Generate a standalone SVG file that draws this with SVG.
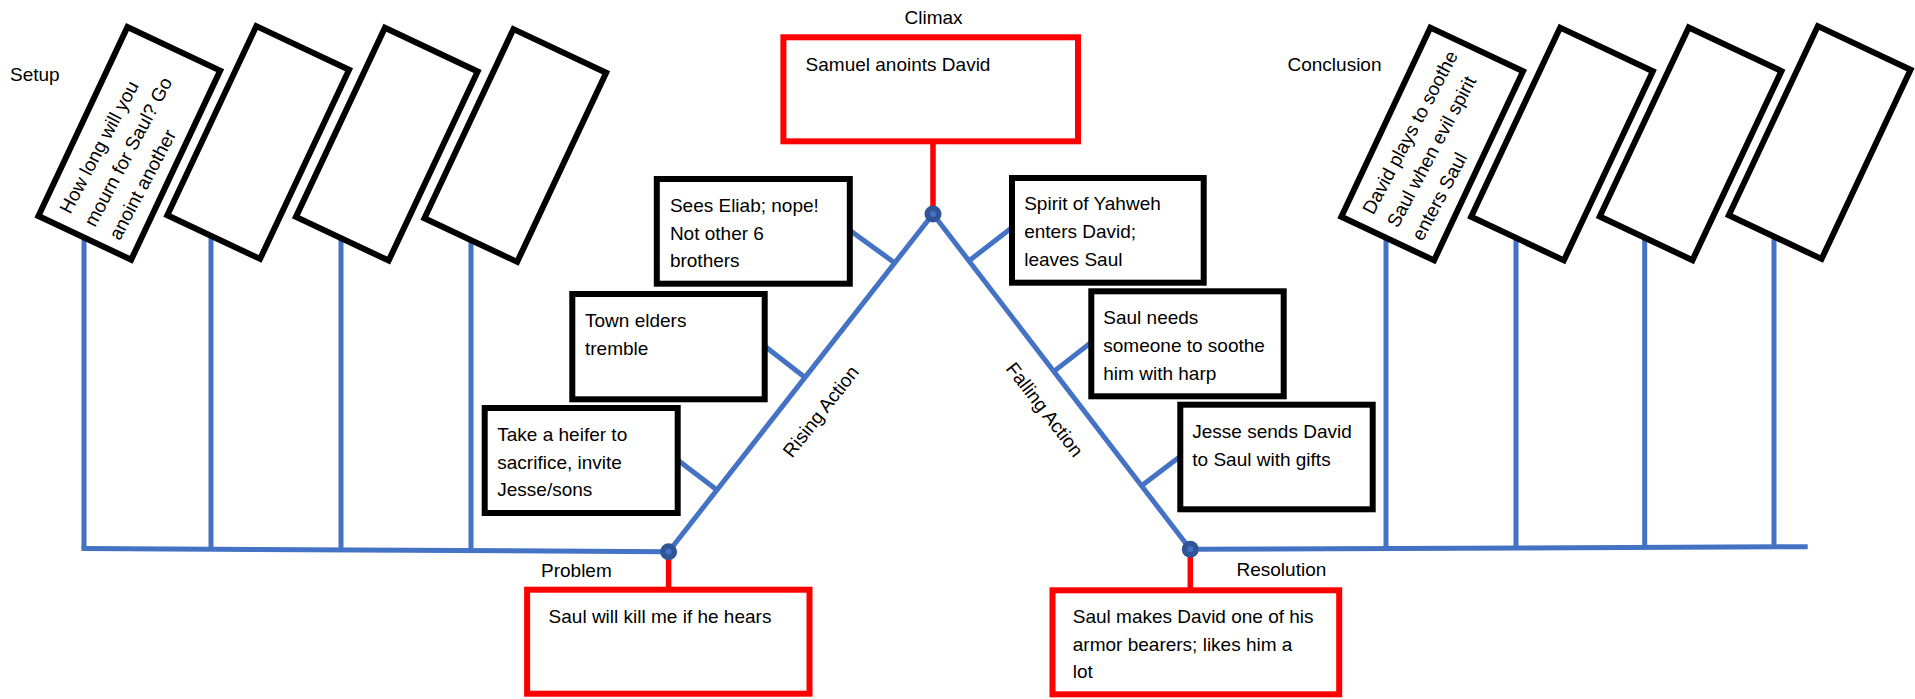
<svg xmlns="http://www.w3.org/2000/svg" width="1915" height="699" viewBox="0 0 1915 699">
<style>
text{font-family:"Liberation Sans",Arial,sans-serif;font-size:19px;fill:#000}
.bl{stroke:#4472C4;stroke-width:5;fill:none}
.rd{stroke:#FF0000;stroke-width:5.5;fill:none}
.bx{fill:#fff;stroke:#000;stroke-width:6}
.rb{fill:#fff;stroke:#FF0000;stroke-width:6}
.dot{fill:#2F5597}
.dotc{fill:#4472C4}
</style>
<rect width="1915" height="699" fill="#fff"/>
<g id="connectors">
  <path class="bl" d="M81.5 548.5 L668.6 551.7"/>
  <path class="bl" d="M84 200 V548.5 M211 200 V549.2 M341 200 V549.9 M471 200 V550.6"/>
  <path class="bl" d="M668.6 551.7 L933 214 L1190.3 549.3"/>
  <path class="bl" d="M1190.3 549.3 L1807.7 546.7"/>
  <path class="bl" d="M1386 200 V548.5 M1516 200 V547.9 M1644.7 200 V547.4 M1774 200 V546.8"/>
  <path class="bl" d="M848 229 L895.5 263.4 M762 344 L805.4 377.8 M675 458 L717 490.1"/>
  <path class="bl" d="M1014 226 L969 260.8 M1093 341 L1053.9 371.4 M1182 455 L1141.6 485.7"/>
  <path class="rd" d="M933 144 V214 M668.6 551.7 V590 M1190.3 549.3 V590"/>
  <circle class="dot" cx="933" cy="214" r="8.5"/><circle class="dotc" cx="933" cy="214" r="3"/>
  <circle class="dot" cx="668.6" cy="551.7" r="8.5"/><circle class="dotc" cx="668.6" cy="551.7" r="3"/>
  <circle class="dot" cx="1190.3" cy="549.3" r="8.5"/><circle class="dotc" cx="1190.3" cy="549.3" r="3"/>
</g>
<g id="label-setup"><text x="10" y="81">Setup</text></g>
<g id="label-climax"><text x="933.5" y="24" text-anchor="middle">Climax</text></g>
<g id="label-conclusion"><text x="1287.5" y="70.5">Conclusion</text></g>
<g id="label-problem"><text x="541" y="576.5">Problem</text></g>
<g id="label-resolution"><text x="1236.5" y="575.5">Resolution</text></g>
<g id="label-rising"><text transform="translate(826,415.5) rotate(-51.9)" text-anchor="middle">Rising Action</text></g>
<g id="label-falling"><text transform="translate(1039.5,413.5) rotate(52.45)" text-anchor="middle">Falling Action</text></g>

<g id="setup-1" transform="translate(129.3,143.3) rotate(-64.8)">
  <rect class="bx" x="-104.5" y="-51.25" width="209" height="102.5"/>
  <text transform="rotate(2.8)" x="-91" y="-18.5"><tspan x="-91">How long will you</tspan><tspan x="-91" dy="28">mourn for Saul? Go</tspan><tspan x="-91" dy="28">anoint another</tspan></text>
</g>
<g id="setup-2" transform="translate(258.2,142.5) rotate(-64.8)"><rect class="bx" x="-104.5" y="-51.25" width="209" height="102.5"/></g>
<g id="setup-3" transform="translate(386.8,144.2) rotate(-64.8)"><rect class="bx" x="-104.5" y="-51.25" width="209" height="102.5"/></g>
<g id="setup-4" transform="translate(515.3,145.5) rotate(-64.8)"><rect class="bx" x="-104.5" y="-51.25" width="209" height="102.5"/></g>

<g id="conclusion-1" transform="translate(1432.2,144) rotate(-64.8)">
  <rect class="bx" x="-104.5" y="-51.25" width="209" height="102.5"/>
  <text transform="rotate(2.8)" x="-91" y="-18.5"><tspan x="-91">David plays to soothe</tspan><tspan x="-91" dy="28">Saul when evil spirit</tspan><tspan x="-91" dy="28">enters Saul</tspan></text>
</g>
<g id="conclusion-2" transform="translate(1562,144) rotate(-64.8)"><rect class="bx" x="-104.5" y="-51.25" width="209" height="102.5"/></g>
<g id="conclusion-3" transform="translate(1690.6,143.8) rotate(-64.8)"><rect class="bx" x="-104.5" y="-51.25" width="209" height="102.5"/></g>
<g id="conclusion-4" transform="translate(1819.7,142.5) rotate(-64.8)"><rect class="bx" x="-104.5" y="-51.25" width="209" height="102.5"/></g>

<g id="climax">
  <rect class="rb" x="783.4" y="37.3" width="294.6" height="104"/>
  <text x="805.6" y="70.7">Samuel anoints David</text>
</g>
<g id="problem">
  <rect class="rb" x="527.1" y="589.7" width="282.4" height="104"/>
  <text x="548.6" y="623.3">Saul will kill me if he hears</text>
</g>
<g id="resolution">
  <rect class="rb" x="1052.5" y="590.3" width="286.7" height="104"/>
  <text x="1072.8" y="622.7"><tspan x="1072.8">Saul makes David one of his</tspan><tspan x="1072.8" dy="27.8">armor bearers; likes him a</tspan><tspan x="1072.8" dy="27.8">lot</tspan></text>
</g>
<g id="rising-1">
  <rect class="bx" x="484.7" y="408" width="193" height="105"/>
  <text x="497.3" y="440.7"><tspan x="497.3">Take a heifer to</tspan><tspan x="497.3" dy="27.8">sacrifice, invite</tspan><tspan x="497.3" dy="27.8">Jesse/sons</tspan></text>
</g>
<g id="rising-2">
  <rect class="bx" x="572.3" y="294" width="192.4" height="105.3"/>
  <text x="585" y="327.3"><tspan x="585">Town elders</tspan><tspan x="585" dy="27.8">tremble</tspan></text>
</g>
<g id="rising-3">
  <rect class="bx" x="656.8" y="179" width="193" height="104.7"/>
  <text x="669.9" y="211.7"><tspan x="669.9">Sees Eliab; nope!</tspan><tspan x="669.9" dy="27.8">Not other 6</tspan><tspan x="669.9" dy="27.8">brothers</tspan></text>
</g>
<g id="falling-1">
  <rect class="bx" x="1012" y="178" width="191.7" height="104.7"/>
  <text x="1024.2" y="210"><tspan x="1024.2">Spirit of Yahweh</tspan><tspan x="1024.2" dy="27.8">enters David;</tspan><tspan x="1024.2" dy="27.8">leaves Saul</tspan></text>
</g>
<g id="falling-2">
  <rect class="bx" x="1091.3" y="291.3" width="192.4" height="105"/>
  <text x="1103.3" y="324"><tspan x="1103.3">Saul needs</tspan><tspan x="1103.3" dy="27.8">someone to soothe</tspan><tspan x="1103.3" dy="27.8">him with harp</tspan></text>
</g>
<g id="falling-3">
  <rect class="bx" x="1180.3" y="404.7" width="192.4" height="104.6"/>
  <text x="1192.3" y="437.7"><tspan x="1192.3">Jesse sends David</tspan><tspan x="1192.3" dy="27.8">to Saul with gifts</tspan></text>
</g>
</svg>
